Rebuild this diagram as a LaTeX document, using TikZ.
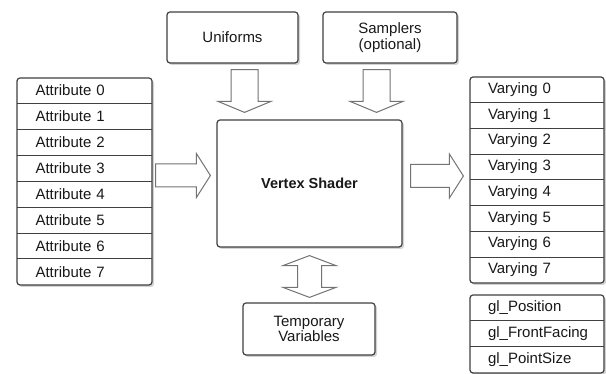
\documentclass[tikz,border=0pt]{standalone}
\usepackage{fontspec}
\setmainfont{Liberation Sans}
\usetikzlibrary{calc,shadows}
\begin{document}
\begin{tikzpicture}[x=1pt,y=1pt,
  txt/.style={text=black!90, font=\fontsize{15}{17}\selectfont},
  box/.style={txt, draw=black!75, line width=1.2pt, fill=white, rounded corners=3pt,
    drop shadow={shadow xshift=2pt, shadow yshift=-2pt, opacity=0.35}},
  listbox/.style={draw=black!75, line width=1.2pt, fill=white, rounded corners=3pt,
    drop shadow={shadow xshift=2pt, shadow yshift=-2pt, opacity=0.35}},
  listrow/.style={txt, anchor=north, inner xsep=18pt, inner ysep=0pt, text width=98pt,
    align=left, minimum height=#1},
  sep/.style={draw=black!75, line width=0.9pt},
  barrow/.style={draw=black!55, line width=1pt, fill=white},
  blockdown/.style={barrow, to path={let \p1=(\tikztostart), \p2=(\tikztotarget) in
    (\x1-13.5pt,\y1) -- (\x1+13.5pt,\y1) -- (\x1+13.5pt,\y2+11pt) -- (\x1+26.5pt,\y2+11pt)
    -- (\x1,\y2) -- (\x1-26.5pt,\y2+11pt) -- (\x1-13.5pt,\y2+11pt) -- cycle}},
  blockright/.style={barrow, to path={let \p1=(\tikztostart), \p2=(\tikztotarget) in
    (\x1,\y1+11.5pt) -- (\x2-14pt,\y1+11.5pt) -- (\x2-14pt,\y1+22pt) -- (\x2,\y1)
    -- (\x2-14pt,\y1-22pt) -- (\x2-14pt,\y1-11.5pt) -- (\x1,\y1-11.5pt) -- cycle}},
  blockboth/.style={barrow, to path={let \p1=(\tikztostart), \p2=(\tikztotarget) in
    (\x1,\y1) -- (\x1+26.5pt,\y1-10pt) -- (\x1+12pt,\y1-10pt) -- (\x1+12pt,\y2+10pt)
    -- (\x1+26.5pt,\y2+10pt) -- (\x1,\y2) -- (\x1-26.5pt,\y2+10pt) -- (\x1-12pt,\y2+10pt)
    -- (\x1-12pt,\y1-10pt) -- (\x1-26.5pt,\y1-10pt) -- cycle}},
]
\useasboundingbox (0,0) rectangle (606,374);

% central shader and its inputs / scratch storage
\node[box, minimum width=185pt, minimum height=127pt, font=\bfseries\fontsize{14.5}{17}\selectfont]
  (shader) at (309.5,190.5) {Vertex Shader};
\node[box, minimum width=131pt, minimum height=51pt] (uni) at (232.5,336.5) {Uniforms};
\node[box, minimum width=134pt, minimum height=51pt, align=center] (samp) at (390,336.5)
  {Samplers\\[-1.5pt](optional)};
\node[box, minimum width=132pt, minimum height=52pt, align=center] (temp) at (309,45)
  {Temporary\\[-1.5pt]Variables};

% attribute inputs
\node[listbox, minimum width=135pt, minimum height=207pt] (attrs) at (84.5,192.5) {};
\foreach \i in {0,...,7}
  \node[listrow=25.875pt] (a\i) at ($(attrs.north)+(0,-\i*25.875)$) {Attribute \i};
\foreach \i in {0,...,6}
  \draw[sep] (a\i.south west) -- (a\i.south east);

% varying outputs
\node[listbox, minimum width=134pt, minimum height=206pt] (vars) at (537,194) {};
\foreach \i in {0,...,7}
  \node[listrow=25.75pt] (v\i) at ($(vars.north)+(0,-\i*25.75)$) {Varying \i};
\foreach \i in {0,...,6}
  \draw[sep] (v\i.south west) -- (v\i.south east);

% built-in outputs
\node[listbox, minimum width=134pt, minimum height=78pt] (builtin) at (537,40) {};
\node[listrow=26pt] (g0) at (builtin.north) {gl\_Position};
\node[listrow=26pt] (g1) at ($(builtin.north)+(0,-26)$) {gl\_FrontFacing};
\node[listrow=26pt] (g2) at ($(builtin.north)+(0,-52)$) {gl\_PointSize};
\draw[sep] (g0.south west) -- (g0.south east);
\draw[sep] (g1.south west) -- (g1.south east);

% block arrows
\draw[blockdown] ($(uni.south)+(12,-6)$) to ($(shader.north)+(0,7)$);
\draw[blockdown] ($(samp.south)+(-13.5,-6)$) to ($(shader.north)+(0,7)$);
\draw[blockright] ($(attrs.east)+(3,6)$) to ($(shader.west)+(-6,0)$);
\draw[blockright] ($(shader.east)+(8,7.5)$) to ($(vars.west)+(-6,0)$);
\draw[blockboth] ($(shader.south)+(0,-8)$) to ($(temp.north)+(0,5)$);
\end{tikzpicture}
\end{document}
